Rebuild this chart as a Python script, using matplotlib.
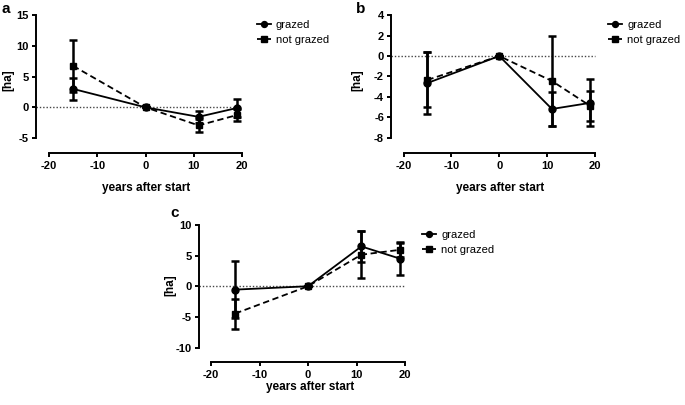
import numpy as np
import matplotlib
matplotlib.use("Agg")
import matplotlib.pyplot as plt

plt.rcParams['font.family'] = ['Liberation Sans', 'DejaVu Sans']
plt.rcParams['axes.unicode_minus'] = False

# dados
anos = [-15, 0, 11, 19]

a_graz = [3.0, 0.0, -1.55, -0.1]
a_graz_err = [1.8, 0.0, 1.0, 1.45]
a_nota = [6.75, 0.0, -2.95, -1.25]
a_nota_err = [4.25, 0.0, 1.05, 1.05]

b_graz = [-2.65, 0.0, -5.2, -4.6]
b_graz_err = [3.05, 0.0, 1.7, 2.3]
b_nota = [-2.35, 0.0, -2.45, -4.9]
b_nota_err = [2.7, 0.0, 4.45, 1.5]

c_graz = [-0.55, 0.0, 6.5, 4.5]
c_graz_err = [4.7, 0.0, 2.5, 2.6]
c_nota = [-4.45, 0.0, 5.15, 5.95]
c_nota_err = [2.45, 0.0, 3.8, 1.25]

W, H = 685, 405
fig = plt.figure(figsize=(W / 100, H / 100), dpi=100)


def px_axes(left, right, top, bottom):
    return fig.add_axes([left / W, (H - bottom) / H, (right - left) / W, (bottom - top) / H])


def painel(ax, graz, graz_err, nota, nota_err, ylim, yticks, off_left, off_bottom):
    ax.set_xlim(-20, 20)
    ax.set_ylim(*ylim)
    for s in ['top', 'right']:
        ax.spines[s].set_visible(False)
    ax.spines['left'].set_position(('outward', off_left * 0.72))
    ax.spines['bottom'].set_position(('outward', off_bottom * 0.72))
    for s in ['left', 'bottom']:
        ax.spines[s].set_linewidth(1.4)
    ax.set_xticks([-20, -10, 0, 10, 20])
    ax.set_yticks(yticks)
    ax.tick_params(width=1.4, length=3, labelsize=8, pad=2)
    ax.tick_params(axis='x', pad=3)
    for lab in ax.get_xticklabels() + ax.get_yticklabels():
        lab.set_fontweight('bold')
    ax.patch.set_visible(False)

    # linha pontilhada no zero
    w_ax = ax.get_position().width * W
    ax.axhline(0, xmin=-off_left / w_ax, xmax=1, color='#444444', lw=1.0,
               ls=(0, (1, 1.4)), clip_on=False, zorder=1)

    ax.errorbar(anos, nota, yerr=nota_err, color='black', lw=1.3, ls=(0, (3.5, 2)),
                marker='s', ms=5, elinewidth=1.8, capsize=2.8, capthick=1.8,
                clip_on=False, zorder=3, label='not grazed')
    ax.errorbar(anos, graz, yerr=graz_err, color='black', lw=1.3, ls='-',
                marker='o', ms=5, elinewidth=1.8, capsize=2.8, capthick=1.8,
                clip_on=False, zorder=4, label='grazed')

    hd, lb = ax.get_legend_handles_labels()
    hd = [h[0] for h in hd]
    return hd[::-1], lb[::-1]


leg_kw = dict(loc='upper left', frameon=False, fontsize=8, handlelength=1.3,
              handletextpad=0.45, labelspacing=0.45, borderpad=0, markerscale=0.85)

ax_a = px_axes(49, 242, 15.3, 138)
h, l = painel(ax_a, a_graz, a_graz_err, a_nota, a_nota_err, (-5, 15), [-5, 0, 5, 10, 15], 13, 15)
fig.legend(h, l, bbox_to_anchor=(251 / W, 1 - 14 / H), **leg_kw)

ax_b = px_axes(403.5, 595, 15.3, 137.5)
h, l = painel(ax_b, b_graz, b_graz_err, b_nota, b_nota_err, (-8, 4), [-8, -6, -4, -2, 0, 2, 4], 12.5, 15.5)
fig.legend(h, l, bbox_to_anchor=(602 / W, 1 - 14 / H), **leg_kw)

ax_c = px_axes(211, 405, 225, 347.5)
h, l = painel(ax_c, c_graz, c_graz_err, c_nota, c_nota_err, (-10, 10), [-10, -5, 0, 5, 10], 12, 14.2)
fig.legend(h, l, bbox_to_anchor=(416 / W, 1 - 224 / H), **leg_kw)

# rotulos
for x, y in [(146, 188), (500, 188), (310, 387)]:
    fig.text(x / W, 1 - y / H, 'years after start', ha='center', va='center',
             fontsize=8.5, fontweight='bold')
for x, y in [(8, 80), (357, 80), (170, 285)]:
    fig.text(x / W, 1 - y / H, '[ha]', ha='center', va='center', rotation=90,
             fontsize=8.5, fontweight='bold')
for x, y, t in [(6, 9, 'a'), (361, 9, 'b'), (175, 213, 'c')]:
    fig.text(x / W, 1 - y / H, t, ha='center', va='center', fontsize=11, fontweight='bold')

fig.savefig('out.png', dpi=100)
